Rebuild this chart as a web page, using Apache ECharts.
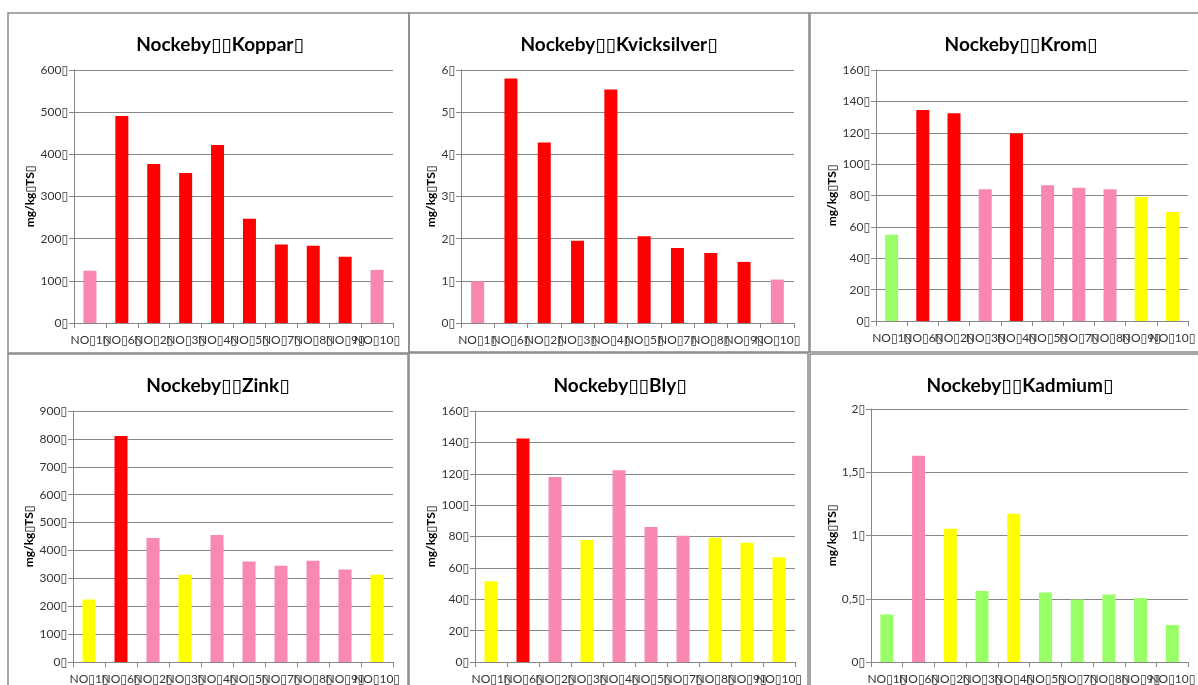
<!DOCTYPE html>
<html>
<head>
<meta charset="utf-8">
<script src="https://cdn.jsdelivr.net/npm/echarts@6/dist/echarts.min.js"></script>
<style>
html,body{margin:0;padding:0;background:#fff;}
#c{width:1198px;height:685px;}
</style>
</head>
<body>
<div id="c"></div>
<script>
// ---- data ----
const categories = ['NO\u25AF1\u25AF','NO\u25AF6\u25AF','NO\u25AF2\u25AF','NO\u25AF3\u25AF','NO\u25AF4\u25AF','NO\u25AF5\u25AF','NO\u25AF7\u25AF','NO\u25AF8\u25AF','NO\u25AF9\u25AF','NO\u25AF10\u25AF'];
const titles = ['Nockeby\u25AF\u25AFKoppar\u25AF','Nockeby\u25AF\u25AFKvicksilver\u25AF','Nockeby\u25AF\u25AFKrom\u25AF','Nockeby\u25AF\u25AFZink\u25AF','Nockeby\u25AF\u25AFBly\u25AF','Nockeby\u25AF\u25AFKadmium\u25AF'];
const yAxisName = 'mg/kg\u25AFTS\u25AF';

const koppar      = [124, 491, 377, 356, 422, 247, 186, 183, 157, 126];
const kvicksilver = [0.99, 5.80, 4.28, 1.95, 5.54, 2.06, 1.78, 1.66, 1.45, 1.03];
const krom        = [55, 134.5, 132.5, 84, 119.5, 86.5, 85, 84, 79, 69.5];
const zink        = [224, 810, 445, 313, 455, 360, 345, 363, 332, 313];
const bly         = [51.5, 142.5, 118, 77.7, 122.3, 86.1, 80.4, 79.2, 76, 66.7];
const kadmium     = [0.376, 1.63, 1.054, 0.562, 1.172, 0.549, 0.494, 0.534, 0.505, 0.292];

// class of each bar (1 = green, 2 = yellow, 3 = pink, 4 = red)
const kopparClass      = [3,4,4,4,4,4,4,4,4,3];
const kvicksilverClass = [3,4,4,4,4,4,4,4,4,3];
const kromClass        = [1,4,4,3,4,3,3,3,2,2];
const zinkClass        = [2,4,3,2,3,3,3,3,3,2];
const blyClass         = [2,4,3,2,3,3,3,2,2,2];
const kadmiumClass     = [1,3,2,1,2,1,1,1,1,1];

const yMax      = [600, 6, 160, 900, 160, 2];
const yInterval = [100, 1, 20, 100, 20, 0.5];

// ---- styles / layout ----
const classColor = {1:'#99FF66', 2:'#FFFF00', 3:'#F887B1', 4:'#FF0000'};
const values  = [koppar, kvicksilver, krom, zink, bly, kadmium];
const classes = [kopparClass, kvicksilverClass, kromClass, zinkClass, blyClass, kadmiumClass];
const grids = [
  {left:74,  top:70,  width:319, height:253},
  {left:461, top:70,  width:333, height:253},
  {left:876, top:70,  width:320, height:251},
  {left:73,  top:411, width:320, height:252},
  {left:475, top:411, width:320, height:252},
  {left:871, top:409, width:323, height:254}
];
const titlePos = [
  {x:215, y:30}, {x:614, y:30}, {x:1016, y:30},
  {x:213, y:371}, {x:615, y:371}, {x:1015, y:371}
];
const nameX = [37, 437, 840, 37, 438, 838];
const panels = [
  {x:8, y:13, w:401, h:340},
  {x:409, y:13, w:400, h:339},
  {x:810, y:13, w:400, h:339},
  {x:8, y:354, w:400, h:340},
  {x:409, y:353, w:399, h:340},
  {x:810, y:354, w:400, h:340}
];
const gridColor = '#878787';
const fontFam = 'Lato, "Liberation Sans", "DejaVu Sans", sans-serif';

const option = {
  animation:false,
  backgroundColor:'#fff',
  graphic: panels.map(p => ({
    type:'rect', silent:true, z:-1,
    shape:{x:p.x, y:p.y, width:p.w, height:p.h},
    style:{fill:'none', stroke:'#8a8a8a', lineWidth:1.5}
  })),
  title: titles.map((t,i) => ({
    text:t, left:titlePos[i].x, top:titlePos[i].y, textAlign:'center',
    textStyle:{fontFamily:fontFam, fontWeight:'bold', fontSize:19, color:'#000'}
  })),
  grid: grids.map(g => Object.assign({containLabel:false}, g)),
  xAxis: grids.map((g,i) => ({
    type:'category', gridIndex:i, data:categories, boundaryGap:true,
    axisLine:{lineStyle:{color:gridColor, width:1}},
    axisTick:{show:true, length:5, lineStyle:{color:gridColor}},
    axisLabel:{interval:0, margin:11, fontFamily:fontFam, fontSize:12, color:'#333', hideOverlap:false}
  })),
  yAxis: grids.map((g,i) => ({
    type:'value', gridIndex:i, min:0, max:yMax[i], interval:yInterval[i],
    name:yAxisName, nameLocation:'middle', nameGap:grids[i].left - nameX[i], nameRotate:90,
    nameTextStyle:{fontFamily:fontFam, fontWeight:'bold', fontSize:12, color:'#000'},
    axisLine:{show:true, lineStyle:{color:gridColor, width:1}},
    axisTick:{show:true, length:5, lineStyle:{color:gridColor}},
    splitLine:{show:true, lineStyle:{color:gridColor, width:1}},
    axisLabel:{margin:6, fontFamily:fontFam, fontSize:12, color:'#333',
      formatter: v => String(Math.round(v*100)/100).replace('.', ',') + '\u25AF'}
  })),
  series: values.map((vals,i) => ({
    type:'bar', xAxisIndex:i, yAxisIndex:i, barWidth:13,
    data: vals.map((v,j) => ({value:v, itemStyle:{color:classColor[classes[i][j]]}}))
  }))
};
const chart = echarts.init(document.getElementById('c'), null, {renderer:'canvas'});
chart.setOption(option);
</script>
</body>
</html>
